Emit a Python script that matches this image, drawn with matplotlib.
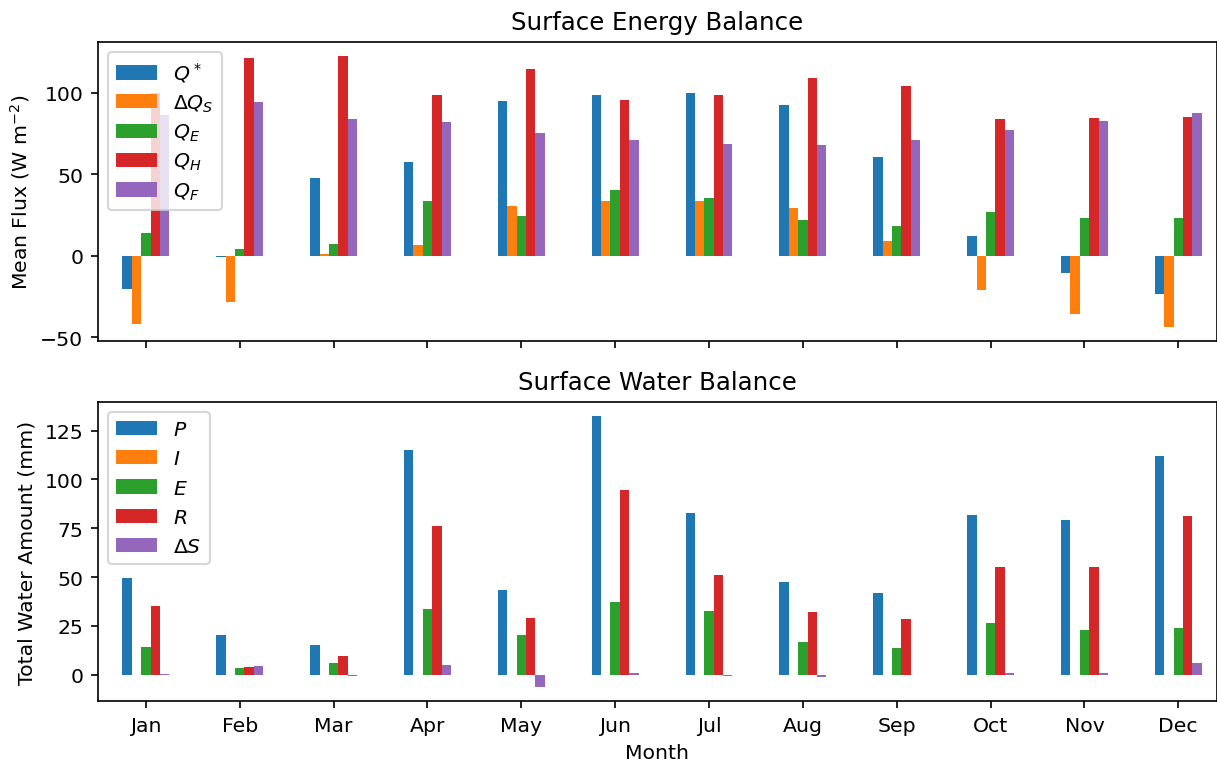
import numpy as np
import matplotlib
matplotlib.use("Agg")
import matplotlib.pyplot as plt
from matplotlib.ticker import MultipleLocator

months = ["Jan", "Feb", "Mar", "Apr", "May", "Jun",
          "Jul", "Aug", "Sep", "Oct", "Nov", "Dec"]

# surface energy balance (W m-2)
qstar = [-20.4, -0.8, 47.6, 57.3, 94.7, 98.6, 99.8, 92.4, 60.4, 12.2, -10.6, -23.5]
dqs = [-42.0, -28.4, 1.0, 6.9, 30.6, 33.3, 33.7, 29.2, 9.2, -21.2, -35.7, -43.9]
qe = [13.9, 4.1, 7.3, 33.7, 24.3, 40.4, 35.5, 22.0, 18.2, 26.7, 23.1, 22.9]
qh = [100.0, 121.2, 122.7, 98.6, 114.5, 95.5, 98.6, 108.8, 104.1, 83.9, 84.5, 84.9]
qf = [86.5, 94.1, 83.7, 82.2, 75.1, 70.8, 68.6, 67.8, 71.0, 77.1, 82.7, 87.3]
energy_labels = [r"$Q^*$", r"$\Delta Q_S$", r"$Q_E$", r"$Q_H$", r"$Q_F$"]

# surface water balance (mm)
precip = [49.3, 20.1, 15.3, 115.3, 43.5, 132.7, 83.0, 47.6, 42.1, 82.0, 79.1, 112.0]
irrig = [0, 0, 0, 0, 0, 0, 0, 0, 0, 0, 0, 0]
evap = [14.3, 3.2, 6.1, 33.9, 20.6, 37.5, 32.9, 16.7, 13.5, 26.4, 22.7, 24.0]
runoff = [35.0, 3.9, 9.7, 76.1, 29.3, 94.6, 51.0, 32.2, 28.6, 55.1, 55.4, 81.2]
dstore = [0.2, 4.3, -0.7, 5.1, -6.5, 0.7, -0.7, -1.4, -0.1, 0.7, 1.0, 6.1]
water_labels = [r"$P$", r"$I$", r"$E$", r"$R$", r"$\Delta S$"]

plt.rcParams["font.size"] = 9.75
colors = plt.rcParams["axes.prop_cycle"].by_key()["color"][:5]


def grouped_bars(ax, series, labels, width=0.1, spacing=0.5):
    x = np.arange(len(months))
    n = len(series)
    for i, (vals, lab) in enumerate(zip(series, labels)):
        ax.bar(x + (i - (n - 1) / 2) * width, vals, width,
               color=colors[i], label=lab)
    ax.set_xticks(x)
    ax.set_xticklabels(months, rotation=0)
    ax.set_xlim(-0.51, len(months) - 0.59)
    ax.legend(loc="upper left", labelspacing=spacing)


fig, (ax1, ax2) = plt.subplots(2, 1, sharex=True, figsize=(8.12, 5.073), dpi=150)

grouped_bars(ax1, [qstar, dqs, qe, qh, qf], energy_labels, spacing=0.4)
ax1.set_title("Surface Energy Balance")
ax1.set_ylabel(r"Mean Flux (W m$^{-2}$)")

grouped_bars(ax2, [precip, irrig, evap, runoff, dstore], water_labels)
ax2.set_title("Surface Water Balance")
ax2.set_ylabel("Total Water Amount (mm)")
ax2.set_xlabel("Month")
ax2.yaxis.set_major_locator(MultipleLocator(25))

ax1.set_position([0.0805, 0.5506, 0.9185, 0.3929])
ax2.set_position([0.0805, 0.0775, 0.9185, 0.3929])

fig.savefig("out.png", dpi=150)
